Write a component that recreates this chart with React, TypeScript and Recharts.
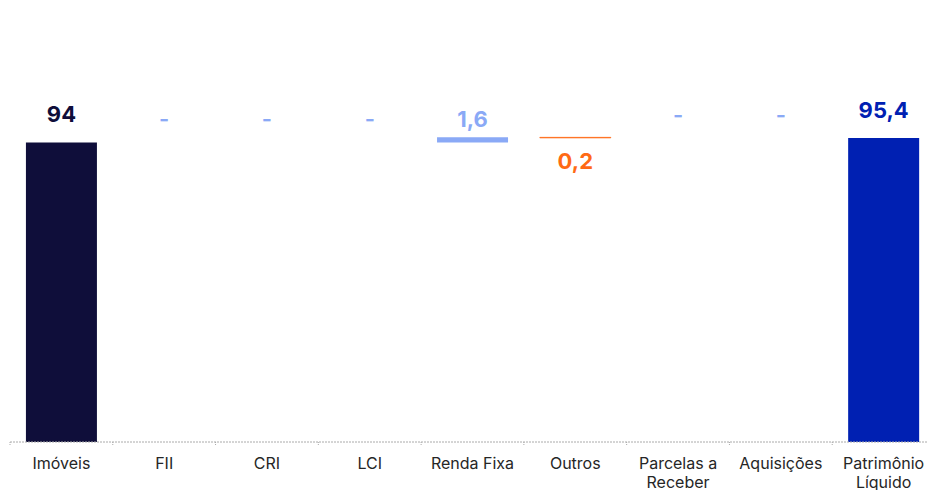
import React from 'react';
import { BarChart, Bar, XAxis, YAxis, LabelList, Cell } from 'recharts';

const categories = ['Imóveis', 'FII', 'CRI', 'LCI', 'Renda Fixa', 'Outros', 'Parcelas a Receber', 'Aquisições', 'Patrimônio Líquido'];
const tickLines = [['Imóveis'], ['FII'], ['CRI'], ['LCI'], ['Renda Fixa'], ['Outros'], ['Parcelas a', 'Receber'], ['Aquisições'], ['Patrimônio', 'Líquido']];
const deltas = [94, 0, 0, 0, 1.6, -0.2, 0, 0, 95.4];
const isTotal = [true, false, false, false, false, false, false, false, true];
const valueLabels = ['94', '-', '-', '-', '1,6', '0,2', '-', '-', '95,4'];

const NAVY = '#0f0e3a';
const BLUE = '#0020b2';
const LIGHT = '#8aa9f6';
const ORANGE = '#ff6a14';

const colorFor = (i: number) => {
  if (isTotal[i]) return i === 0 ? NAVY : BLUE;
  return deltas[i] < 0 ? ORANGE : LIGHT;
};

// waterfall: invisible base + visible step
let running = 0;
const data = categories.map((name, i) => {
  const d = deltas[i];
  let base = 0;
  let size = 0;
  if (isTotal[i]) {
    size = d;
    running = d;
  } else if (d >= 0) {
    base = running;
    size = d;
    running += d;
  } else {
    running += d;
    base = running;
    size = -d;
  }
  return { name, base, size };
});

const WIDTH = 935;
const LEFT = 10;
const BAND = (WIDTH - LEFT) / categories.length;

const AxisTick = (props: any) => {
  const { x, y, payload, index } = props;
  const lines = tickLines[index] || [payload.value];
  return (
    <g>
      <line x1={x - BAND / 2} x2={x - BAND / 2} y1={y} y2={y + 4} stroke="#aaaaaa" strokeDasharray="1 1" />
      <text x={x} y={y + 27} textAnchor="middle" fill="#262626" fontSize={16} fontFamily="Inter">
        {lines.map((l: string, k: number) => (
          <tspan key={k} x={x} dy={k === 0 ? 0 : 18.5}>{l}</tspan>
        ))}
      </text>
    </g>
  );
};

// dashes for empty steps, anchored on the top of the invisible base
const renderDash = (props: any) => {
  const { x, y, width, value } = props;
  const i = categories.indexOf(value);
  if (i < 0 || deltas[i] !== 0) return null;
  const cx = Number(x) + Number(width) / 2;
  return (
    <text x={cx} y={Number(y) - 15} textAnchor="middle" fill={LIGHT} fontSize={22} fontWeight={600} fontFamily="Inter">
      {valueLabels[i]}
    </text>
  );
};

const renderValue = (props: any) => {
  const { x, y, width, height, value } = props;
  const i = categories.indexOf(value);
  if (i < 0 || deltas[i] === 0) return null;
  const cx = Number(x) + Number(width) / 2;
  const top = Number(y);
  const d = deltas[i];
  let ty = top - 20;
  if (!isTotal[i]) ty = d > 0 ? top - 10.6 : top + Number(height) + 31;
  return (
    <text x={cx} y={ty} textAnchor="middle" fill={colorFor(i)} fontSize={22} fontWeight={700} fontFamily="Inter">
      {valueLabels[i]}
    </text>
  );
};

export default function App() {
  return (
    <div style={{ width: 928, height: 490, overflow: 'hidden', background: '#fff' }}>
      <style>{'body{margin:0;overflow:hidden}'}</style>
      <BarChart
        width={WIDTH}
        height={490}
        data={data}
        margin={{ top: 123.3, right: 0, left: LEFT, bottom: 0 }}
        barCategoryGap="15.5%"
      >
        <XAxis
          dataKey="name"
          interval={0}
          height={48}
          tickLine={false}
          tickSize={0}
          tickMargin={0}
          axisLine={{ stroke: '#aaaaaa', strokeDasharray: '2 1' }}
          tick={<AxisTick />}
        />
        <YAxis hide domain={[0, 100]} />
        <Bar dataKey="base" stackId="w" fill="transparent" isAnimationActive={false}>
          <LabelList dataKey="name" content={renderDash} />
        </Bar>
        <Bar dataKey="size" stackId="w" isAnimationActive={false}>
          {data.map((_, i) => (
            <Cell key={i} fill={colorFor(i)} stroke={deltas[i] < 0 ? colorFor(i) : 'none'} strokeWidth={0.6} />
          ))}
          <LabelList dataKey="name" content={renderValue} />
        </Bar>
      </BarChart>
    </div>
  );
}
